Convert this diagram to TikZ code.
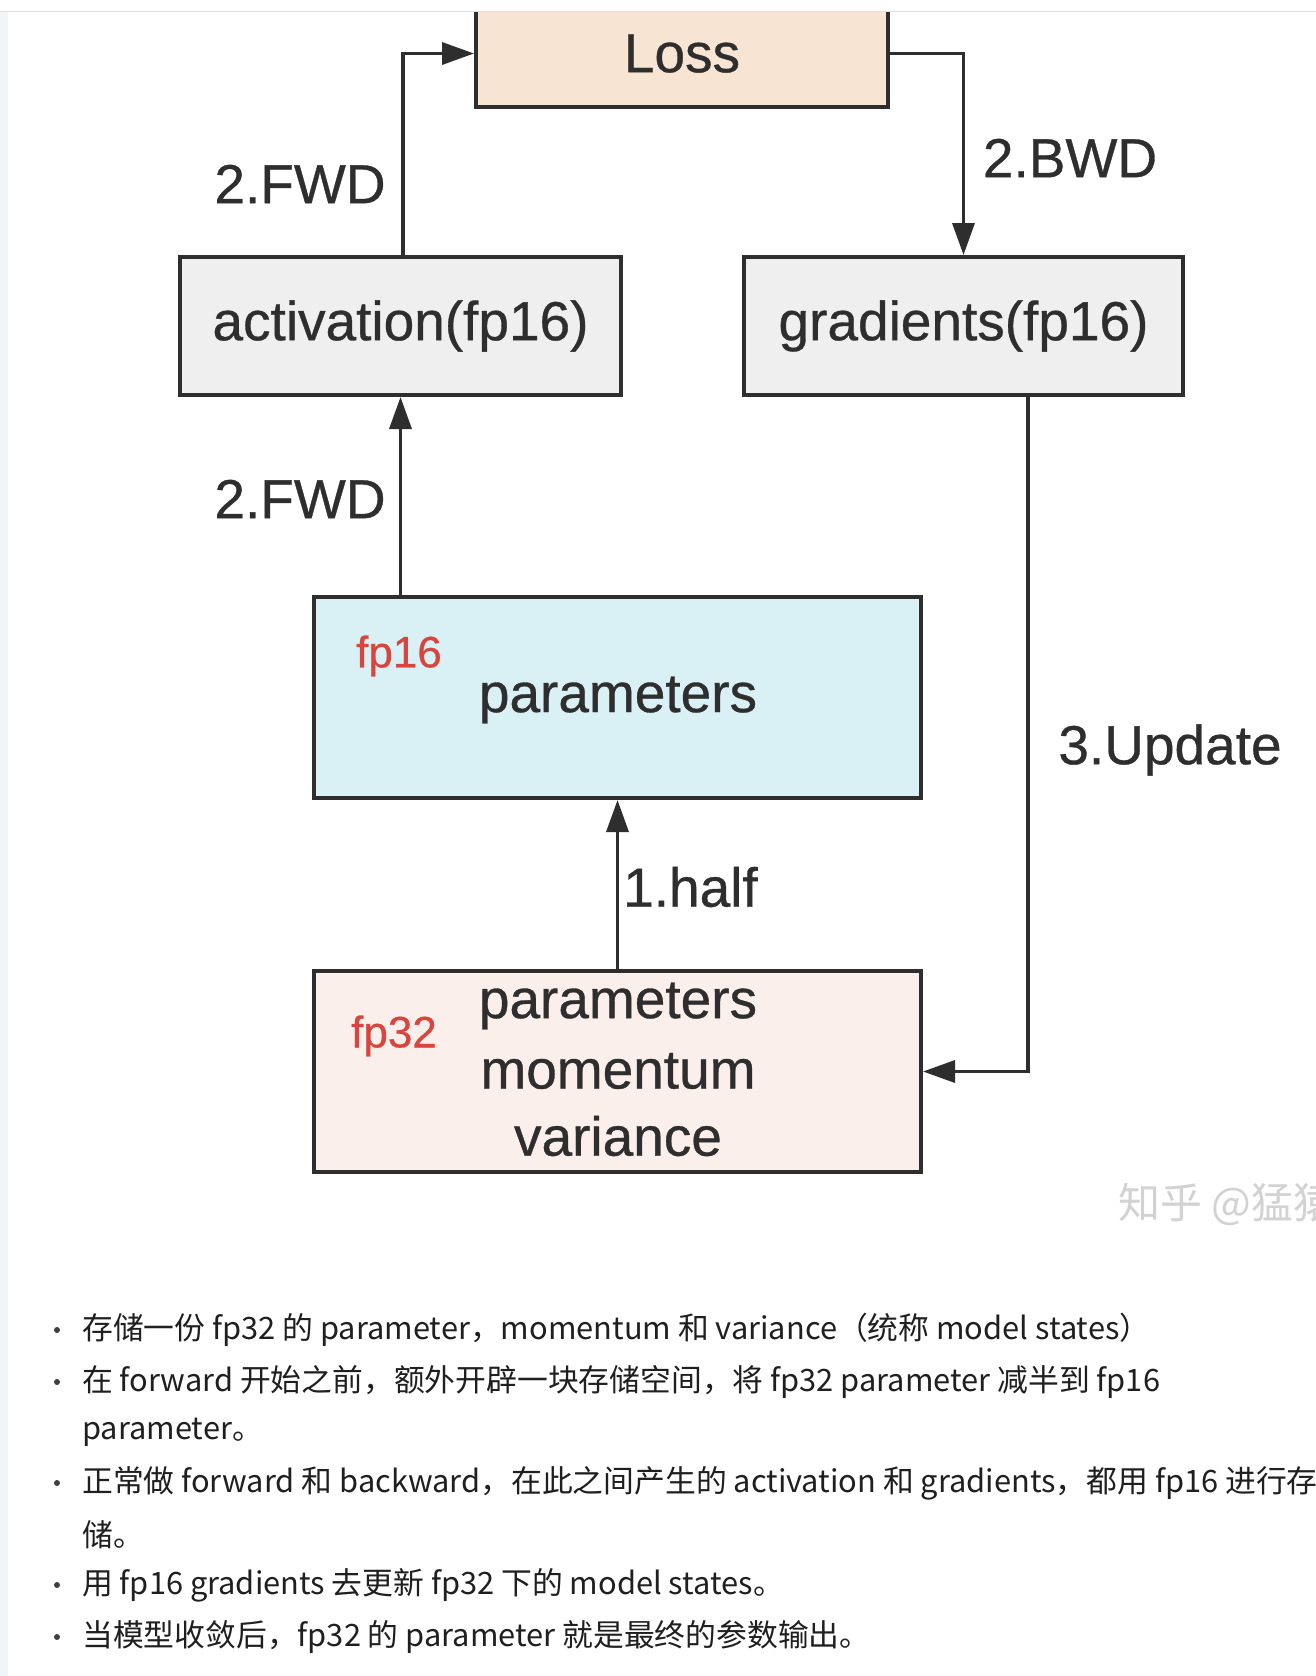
\documentclass[tikz,border=0pt]{standalone}
\usepackage{fontspec}
\setmainfont{Liberation Sans}[FakeBold=0.6]
\newfontfamily\cjk{Noto Sans CJK SC}
\usetikzlibrary{arrows.meta}
\definecolor{ink}{HTML}{2E2E2E}
\definecolor{lossfill}{HTML}{F8E4D3}
\definecolor{grayfill}{HTML}{EFEFEF}
\definecolor{cyanfill}{HTML}{D9F0F4}
\definecolor{pinkfill}{HTML}{FBEFEC}
\definecolor{redtxt}{HTML}{D8453F}
\definecolor{sidebar}{HTML}{F3F4F6}
\definecolor{wmark}{HTML}{D2D2D2}
\tikzset{
  box/.style={draw=ink, line width=4pt, text=ink, inner sep=0pt, align=center,
    font=\fontsize{55}{62}\selectfont},
  arr/.style={draw=ink, line width=3.5pt, -{Triangle[length=32pt,width=22pt]}},
  lbl/.style={text=ink, inner sep=0pt, font=\fontsize{55}{62}\selectfont},
  red/.style={text=redtxt, inner sep=0pt, font=\fontsize{44}{50}\selectfont},
  bul/.style={text=black!88, inner sep=0pt, anchor=west, font=\cjk\fontsize{30.8}{36}\selectfont},
  dot/.style={fill=black!75, circle, inner sep=0pt, minimum size=6pt}
}
\begin{document}
\begin{tikzpicture}[x=1pt,y=-1pt]
\path[use as bounding box] (0,0) rectangle (1316,1676);
\clip (0,0) rectangle (1316,1676);
\fill[white] (0,0) rectangle (1316,1676);
\fill[sidebar] (0,12) rectangle (8,1676);

% boxes
\node[box, fill=lossfill, minimum width=412pt, minimum height=107pt] (loss) at (682,53.5) {Loss};
\node[box, fill=grayfill, minimum width=441pt, minimum height=138pt] (act) at (400.5,326) {activation(fp16)};
\node[box, fill=grayfill, minimum width=439pt, minimum height=138pt] (grad) at (963.5,326) {gradients(fp16)};
\node[box, fill=cyanfill, minimum width=607pt, minimum height=201pt] (p16) at (617.5,697.5) {};
\node[box, fill=pinkfill, minimum width=607pt, minimum height=201pt] (p32) at (617.5,1071.5) {};

% top strip over the Loss box
\fill[white] (0,0) rectangle (1316,11);
\draw[black!12, line width=1pt] (0,11.5) -- (1316,11.5);

% box texts
\node[red] (t16) at (399,656) {fp16};
\node[lbl] (tp16) at (618,700) {parameters};
\node[red] (t32) at (394,1036) {fp32};
\node[lbl] (tpa) at (618,1006) {parameters};
\node[lbl] (tmo) at (618,1071) {momentum};
\node[lbl] (tva) at (618,1136) {variance};

% connectors
\draw[arr] ([xshift=2.5pt]act.north) |- (loss.west);
\draw[arr] (loss.east) -| (grad.north);
\draw[arr] (p16.north -| act.south) -- (act.south);
\draw[arr] (p32.north) -- (p16.south);
\draw[arr] ([xshift=64.5pt]grad.south) |- (p32.east);

% labels
\node[lbl] (l1) at (300,184) {2.FWD};
\node[lbl] (l2) at (300,499) {2.FWD};
\node[lbl] (l3) at (1070,158) {2.BWD};
\node[lbl] (l4) at (1170,750) {3.Update};
\node[lbl, anchor=west] (l5) at (623,887) {1.half};

% watermark
\node[anchor=west, inner sep=0pt, text=wmark, font=\cjk\fontsize{42}{46}\selectfont] (wm) at (1118,1204) {知乎 @猛猿};

% bullet list
\node[dot] (d1) at (57,1330) {};
\node[bul] (b1) at (82,1330) {存储一份 fp32 的 parameter，momentum 和 variance（统称 model states）};
\node[dot] (d2) at (57,1382) {};
\node[bul] (b2) at (82,1382) {在 forward 开始之前，额外开辟一块存储空间，将 fp32 parameter 减半到 fp16};
\node[bul] (b2b) at (82,1432) {parameter。};
\node[dot] (d3) at (57,1483) {};
\node[bul] (b3) at (82,1483) {正常做 forward 和 backward，在此之间产生的 activation 和 gradients，都用 fp16 进行存};
\node[bul] (b3b) at (82,1535) {储。};
\node[dot] (d4) at (57,1585) {};
\node[bul] (b4) at (82,1585) {用 fp16 gradients 去更新 fp32 下的 model states。};
\node[dot] (d5) at (57,1637) {};
\node[bul] (b5) at (82,1637) {当模型收敛后，fp32 的 parameter 就是最终的参数输出。};
\end{tikzpicture}
\end{document}
